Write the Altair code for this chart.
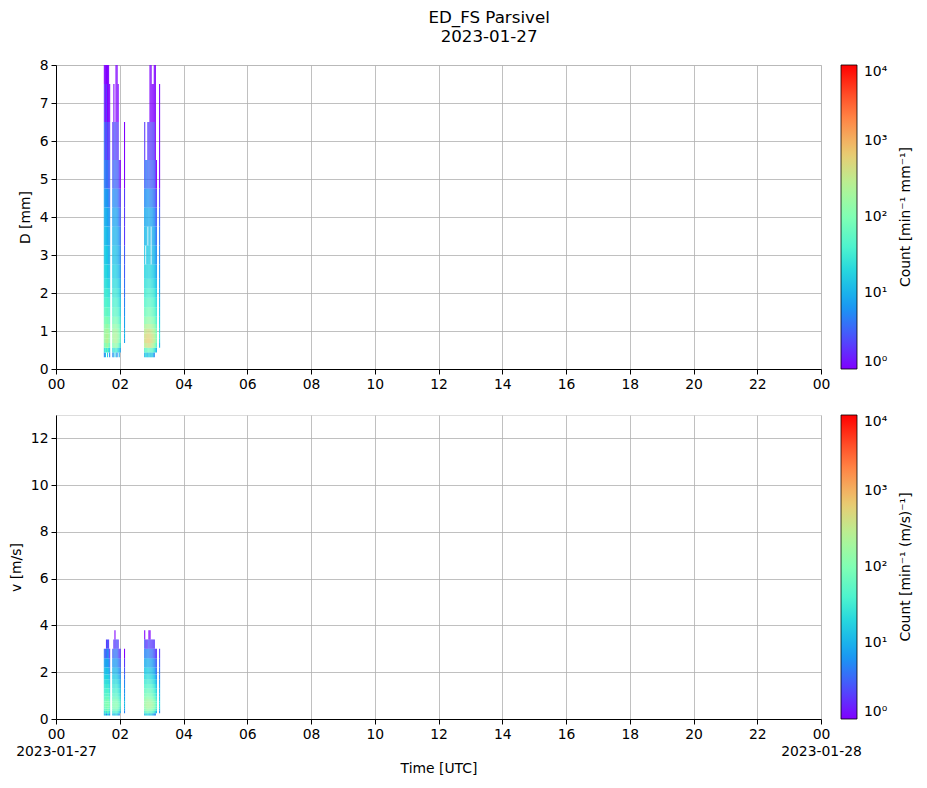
import altair as alt
import pandas as pd

# ---------------- data ----------------
# start minute (after 00:00 UTC) of each 2-minute column, rain spell 1 and 2
TIME_MIN_1 = [90, 92, 94, 96, 98, 100, 106, 108, 110, 112, 114, 116, 118, 120, 128]
TIME_MIN_2 = [166, 168, 170, 172, 174, 176, 178, 180, 182, 184, 186, 188, 194]
STEP_MIN = 2

# cell edges (Parsivel class centres drawn as edges)
D_EDGES = [0.312, 0.437, 0.562, 0.687, 0.812, 0.937, 1.062, 1.187, 1.375, 1.625, 1.875,
           2.125, 2.375, 2.75, 3.25, 3.75, 4.25, 4.75, 5.5, 6.5, 7.5, 8.5]
V_EDGES = [0.15, 0.25, 0.35, 0.45, 0.55, 0.65, 0.75, 0.85, 0.95, 1.1, 1.3, 1.5, 1.7, 1.9,
           2.2, 2.6, 3.0, 3.4, 3.8]

# counts per diameter cell (bottom -> top), one list per time column
D_COUNTS_1 = [
    [5, 20, 80, 150, 180, 150, 110, 80, 50, 35, 28, 22, 18, 14, 12, 10, 8, 5, 4, 2, 1],
    [10, 40, 120, 200, 200, 180, 130, 90, 60, 40, 30, 24, 18, 15, 12, 9, 6, 4, 2, 1, 1],
    [0, 30, 150, 250, 220, 200, 150, 100, 60, 45, 32, 25, 20, 15, 12, 10, 7, 4, 3, 2, 1],
    [20, 50, 180, 250, 250, 200, 150, 90, 55, 40, 30, 22, 16, 14, 10, 8, 6, 4, 2, 1, 1],
    [0, 25, 100, 180, 200, 170, 120, 80, 50, 35, 25, 18, 14, 10, 9, 7, 5, 3, 2, 1, 1],
    [5, 15, 60, 120, 150, 120, 90, 60, 40, 30, 22, 16, 12, 10, 8, 6, 4, 3, 2, 1, 0],
    [5, 20, 90, 160, 180, 150, 110, 70, 45, 34, 26, 20, 15, 12, 10, 7, 5, 3, 2, 0, 0],
    [10, 30, 120, 200, 220, 180, 130, 80, 50, 38, 28, 22, 16, 13, 10, 8, 6, 3, 2, 1, 0],
    [0, 25, 140, 230, 230, 200, 140, 90, 60, 40, 30, 22, 17, 13, 10, 8, 5, 4, 3, 0, 0],
    [15, 40, 160, 240, 230, 190, 140, 90, 55, 40, 30, 22, 16, 12, 10, 8, 5, 3, 2, 1, 1],
    [5, 30, 120, 200, 200, 170, 120, 80, 50, 36, 26, 20, 14, 11, 9, 7, 5, 3, 2, 1, 1],
    [0, 20, 90, 150, 170, 140, 100, 70, 45, 32, 24, 18, 13, 10, 8, 6, 4, 3, 2, 1, 0],
    [10, 15, 50, 100, 120, 100, 80, 50, 35, 26, 20, 14, 10, 8, 6, 4, 3, 2, 0, 0, 0],
    [0, 8, 25, 50, 60, 50, 40, 30, 20, 16, 12, 9, 7, 5, 4, 3, 2, 1, 0, 0, 0],
    [0, 0, 0, 8, 10, 10, 8, 8, 6, 5, 4, 4, 3, 3, 2, 2, 2, 1, 1, 0, 0],
]
D_COUNTS_2 = [
    [10, 40, 250, 400, 400, 300, 200, 110, 70, 45, 32, 24, 18, 14, 10, 8, 5, 3, 2, 0, 0],
    [20, 60, 350, 500, 450, 350, 220, 120, 70, 48, 34, 26, 20, 0, 12, 9, 6, 4, 0, 0, 0],
    [15, 50, 350, 550, 500, 380, 240, 130, 80, 50, 36, 26, 20, 15, 12, 9, 6, 4, 0, 0, 0],
    [10, 70, 400, 600, 550, 400, 250, 140, 80, 52, 36, 26, 18, 14, 0, 8, 6, 3, 2, 0, 0],
    [20, 80, 450, 650, 550, 420, 260, 150, 90, 55, 38, 28, 20, 15, 12, 10, 6, 4, 2, 0, 0],
    [15, 60, 400, 550, 480, 380, 230, 130, 80, 50, 35, 26, 18, 14, 12, 8, 5, 3, 2, 1, 1],
    [10, 50, 350, 500, 450, 340, 210, 120, 75, 48, 34, 24, 18, 0, 0, 8, 5, 3, 2, 1, 1],
    [20, 60, 300, 450, 400, 300, 190, 110, 70, 45, 32, 22, 16, 12, 10, 8, 5, 3, 2, 1, 0],
    [10, 40, 220, 350, 330, 250, 160, 100, 60, 42, 30, 20, 15, 11, 9, 6, 4, 3, 2, 1, 0],
    [5, 30, 160, 280, 270, 210, 140, 90, 55, 38, 28, 18, 13, 10, 8, 6, 4, 3, 2, 1, 1],
    [0, 20, 100, 180, 180, 150, 110, 70, 45, 30, 22, 15, 11, 8, 6, 4, 3, 2, 1, 1, 1],
    [0, 10, 50, 90, 100, 80, 60, 40, 30, 22, 16, 12, 8, 6, 4, 3, 2, 1, 0, 0, 0],
    [0, 0, 10, 20, 25, 20, 18, 15, 12, 10, 8, 7, 6, 5, 4, 3, 2, 1, 1, 1, 0],
]

# counts per velocity cell (bottom -> top), one list per time column
V_COUNTS_1 = [
    [10, 20, 40, 60, 70, 70, 60, 50, 40, 34, 28, 22, 16, 12, 8, 4, 0, 0],
    [20, 40, 70, 90, 100, 90, 80, 60, 50, 38, 30, 22, 16, 12, 7, 3, 0, 0],
    [5, 30, 60, 80, 100, 100, 80, 70, 50, 40, 30, 24, 18, 12, 8, 4, 2, 0],
    [20, 50, 80, 100, 110, 100, 90, 70, 55, 42, 32, 24, 18, 13, 8, 5, 3, 0],
    [15, 40, 70, 90, 100, 90, 80, 60, 50, 38, 28, 20, 15, 10, 6, 4, 2, 0],
    [5, 20, 40, 60, 70, 60, 50, 40, 30, 24, 18, 14, 10, 7, 4, 2, 0, 0],
    [10, 30, 60, 80, 90, 80, 70, 55, 45, 34, 26, 20, 14, 10, 6, 3, 0, 0],
    [15, 40, 70, 100, 110, 100, 90, 70, 50, 38, 28, 22, 16, 11, 7, 4, 2, 0],
    [10, 35, 65, 90, 100, 90, 80, 60, 45, 34, 26, 20, 14, 10, 6, 4, 2, 1],
    [20, 45, 80, 110, 120, 110, 90, 70, 55, 42, 32, 24, 16, 11, 7, 4, 2, 0],
    [15, 40, 75, 100, 110, 100, 85, 65, 50, 38, 28, 20, 14, 10, 6, 4, 3, 0],
    [10, 30, 60, 85, 95, 85, 70, 55, 40, 32, 24, 18, 12, 8, 5, 3, 2, 0],
    [5, 20, 40, 60, 70, 60, 50, 40, 30, 24, 18, 13, 9, 6, 4, 2, 0, 0],
    [0, 10, 20, 30, 40, 35, 30, 25, 20, 16, 12, 9, 7, 5, 3, 2, 0, 0],
    [0, 5, 8, 10, 12, 12, 10, 8, 7, 6, 6, 5, 4, 3, 2, 1, 0, 0],
]
V_COUNTS_2 = [
    [10, 40, 80, 120, 150, 150, 130, 100, 80, 60, 42, 30, 20, 14, 9, 5, 3, 1],
    [20, 60, 120, 160, 180, 170, 150, 120, 90, 65, 45, 32, 22, 15, 9, 5, 2, 0],
    [15, 60, 130, 180, 200, 190, 160, 130, 90, 65, 45, 32, 22, 15, 9, 5, 2, 0],
    [20, 70, 150, 200, 220, 200, 170, 130, 95, 70, 48, 34, 24, 16, 10, 5, 2, 0],
    [15, 60, 140, 190, 210, 200, 160, 120, 90, 65, 45, 32, 22, 15, 9, 5, 3, 1],
    [10, 50, 120, 170, 190, 180, 150, 110, 80, 60, 42, 30, 20, 13, 8, 4, 2, 1],
    [20, 60, 130, 180, 200, 180, 150, 110, 80, 60, 40, 28, 19, 13, 8, 4, 2, 0],
    [10, 50, 110, 160, 180, 160, 130, 100, 75, 55, 38, 26, 17, 12, 7, 4, 2, 0],
    [10, 40, 90, 130, 150, 140, 110, 85, 60, 45, 32, 22, 15, 10, 6, 3, 2, 0],
    [5, 30, 70, 110, 120, 110, 90, 70, 50, 38, 28, 20, 13, 9, 5, 3, 2, 0],
    [5, 20, 50, 80, 90, 80, 70, 55, 40, 30, 22, 15, 10, 6, 4, 2, 0, 0],
    [0, 10, 25, 40, 45, 40, 35, 30, 22, 18, 13, 9, 6, 4, 3, 2, 0, 0],
    [0, 5, 10, 15, 18, 16, 14, 12, 10, 9, 8, 6, 5, 4, 3, 2, 0, 0],
]

HOUR_TICKS = list(range(0, 25, 2))
D_TICKS = list(range(0, 9))
V_TICKS = list(range(0, 13, 2))
CBAR_TICKS = [1, 10, 100, 1000, 10000]

TITLE_LINES = ["ED_FS Parsivel", "2023-01-27"]
D_CBAR_TITLE = "Count [min\u207b\u00b9 mm\u207b\u00b9]"
V_CBAR_TITLE = "Count [min\u207b\u00b9 (m/s)\u207b\u00b9]"

# matplotlib "rainbow" colour stops, evenly spaced over log10(count) 0..4
RAINBOW = ["#8000ff", "#4d4ffc", "#1a96f3", "#1acee3", "#4df3ce", "#80ffb4",
           "#b3f396", "#e6ce74", "#ff964f", "#ff4f28", "#ff0000"]
COLOR_STOPS = [1, 2.512, 6.310, 15.85, 39.81, 100, 251.2, 631.0, 1585, 3981, 10000]


def ts(minute):
    h, m = divmod(int(minute), 60)
    d = 27 + h // 24
    h = h % 24
    return f"2023-01-{d:02d}T{h:02d}:{m:02d}:00Z"


def build(times, counts, edges):
    rows = []
    for t, col in zip(times, counts):
        for j, c in enumerate(col):
            if c > 0:
                rows.append({"t0": ts(t), "t1": ts(t + STEP_MIN),
                             "lo": edges[j], "hi": edges[j + 1], "count": c})
    return rows


df_d = pd.DataFrame(build(TIME_MIN_1, D_COUNTS_1, D_EDGES) + build(TIME_MIN_2, D_COUNTS_2, D_EDGES))
df_v = pd.DataFrame(build(TIME_MIN_1, V_COUNTS_1, V_EDGES) + build(TIME_MIN_2, V_COUNTS_2, V_EDGES))

FONT = "DejaVu Sans"
FS = 13.9
W, H = 765, 304
tick_vals = [alt.DateTime(year=2023, month=1, date=27 + h // 24, hours=h % 24, utc=True) for h in HOUR_TICKS]
x_domain = [alt.DateTime(year=2023, month=1, date=27, hours=0, utc=True),
            alt.DateTime(year=2023, month=1, date=28, hours=0, utc=True)]

label_expr = "'10' + ['\u2070','\u00b9','\u00b2','\u00b3','\u2074'][round(log(datum.value)/LN10)]"


def axis_common(**kw):
    base = dict(grid=True, gridColor="#b0b0b0", gridWidth=0.8, domainColor="black",
                domainWidth=1, tickColor="black", tickSize=5, tickWidth=1,
                labelFont=FONT, labelFontSize=FS, labelColor="black", labelPadding=3,
                titleFont=FONT, titleFontSize=FS, titleFontWeight="normal", titleColor="black",
                labelOverlap=False, labelFlush=False)
    base.update(kw)
    return alt.Axis(**base)


def color_enc():
    return alt.Color(
        "count:Q",
        scale=alt.Scale(type="log", domain=COLOR_STOPS, range=RAINBOW, interpolate="rgb"),
        legend=alt.Legend(
            title=None, orient="right", offset=20, direction="vertical",
            gradientLength=H, gradientThickness=16,
            gradientStrokeColor="black", gradientStrokeWidth=0.8,
            values=CBAR_TICKS, labelExpr=label_expr,
            labelFont=FONT, labelFontSize=FS, labelColor="black", labelOffset=7,
            labelOverlap=False, padding=0,
        ),
    )


def cbar_title(text):
    return alt.Chart(pd.DataFrame({"label": [text]})).mark_text(
        angle=270, align="center", baseline="middle", font=FONT, fontSize=FS, color="black"
    ).encode(x=alt.value(W + 85), y=alt.value(H / 2), text="label:N")


top_rect = alt.Chart(df_d).mark_rect(clip=True).encode(
    x=alt.X("t0:T", scale=alt.Scale(type="utc", domain=x_domain, nice=False),
            axis=axis_common(values=tick_vals, title=None,
                             labelExpr="utcFormat(datum.value, '%H')")),
    x2="t1:T",
    y=alt.Y("lo:Q", scale=alt.Scale(domain=[0, 8], nice=False, zero=False),
            axis=axis_common(values=D_TICKS, title="D [mm]", titlePadding=7)),
    y2="hi:Q",
    color=color_enc(),
)
top = alt.layer(top_rect, cbar_title(D_CBAR_TITLE)).properties(width=W, height=H)

bottom_rect = alt.Chart(df_v).mark_rect(clip=True).encode(
    x=alt.X("t0:T", scale=alt.Scale(type="utc", domain=x_domain, nice=False),
            axis=axis_common(values=tick_vals, title="Time [UTC]", titlePadding=4,
                             labelLineHeight=17,
                             labelExpr="utchours(datum.value) == 0 ? [utcFormat(datum.value, '%H'), utcFormat(datum.value, '%Y-%m-%d')] : utcFormat(datum.value, '%H')")),
    x2="t1:T",
    y=alt.Y("lo:Q", scale=alt.Scale(domain=[0, 13], nice=False, zero=False),
            axis=axis_common(values=V_TICKS, title="v [m/s]", titlePadding=7)),
    y2="hi:Q",
    color=color_enc(),
)
bottom = alt.layer(bottom_rect, cbar_title(V_CBAR_TITLE)).properties(width=W, height=H)

chart = alt.vconcat(top, bottom, spacing=22).resolve_scale(color="independent").resolve_legend(
    color="independent"
).properties(
    title=alt.TitleParams(TITLE_LINES, anchor="middle", font=FONT, dx=28,
                          fontSize=16.7, fontWeight="normal", color="black", lineHeight=19,
                          offset=12),
    padding={"left": 0, "top": 1, "right": 5, "bottom": 5},
).configure_view(stroke="black", strokeWidth=1).configure(font=FONT)

chart.save("out.html", embed_options={"renderer": "svg", "actions": False})
